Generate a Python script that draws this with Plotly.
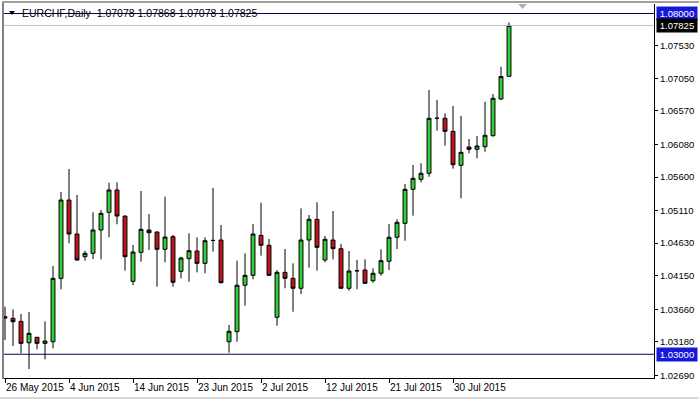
import pandas as pd
import plotly.graph_objects as go

# ---- data ----
start_date = "2015-05-26"
n_bars = 64
dates = pd.bdate_range(start=start_date, periods=n_bars, freq="C",
                       weekmask="Sun Mon Tue Wed Thu Fri")
categories = [d.strftime("%Y-%m-%d") for d in dates]

opens = [1.03551, 1.03527, 1.03483, 1.03169, 1.03249, 1.03160, 1.03184, 1.04114,
         1.05263, 1.04764, 1.04431, 1.04481, 1.04823, 1.05083, 1.05410, 1.05028,
         1.04070, 1.04496, 1.04823, 1.04794, 1.04540, 1.04725, 1.04217, 1.04402,
         1.04515, 1.04334, 1.04670, 1.04676, 1.03184, 1.03331, 1.04012, 1.04158,
         1.04745, 1.04599, 1.03542, 1.04202, 1.04114, 1.03968, 1.04676, 1.04980,
         1.04383, 1.04676, 1.04549, 1.03968, 1.04225, 1.04236, 1.04079, 1.04188,
         1.04364, 1.04716, 1.04921, 1.05420, 1.05567, 1.05655, 1.06462, 1.06462,
         1.06271, 1.05772, 1.06041, 1.06007, 1.06045, 1.06207, 1.06745, 1.07078]
highs = [1.03698, 1.03659, 1.03590, 1.03620, 1.03253, 1.03483, 1.04295, 1.05381,
         1.05718, 1.05337, 1.04519, 1.05083, 1.05117, 1.05517, 1.05523, 1.05035,
         1.04603, 1.05395, 1.05058, 1.04800, 1.05312, 1.04750, 1.04431, 1.04775,
         1.04716, 1.04716, 1.05439, 1.04896, 1.03429, 1.04373, 1.04481, 1.04911,
         1.05224, 1.04691, 1.04236, 1.04544, 1.04334, 1.05141, 1.05043, 1.05230,
         1.04735, 1.05102, 1.04618, 1.04515, 1.04383, 1.04393, 1.04261, 1.04540,
         1.04911, 1.04980, 1.05498, 1.05777, 1.05802, 1.06877, 1.06731, 1.06535,
         1.06643, 1.06496, 1.06158, 1.06202, 1.06706, 1.06819, 1.07219, 1.07868]
lows = [1.03209, 1.03121, 1.03014, 1.02783, 1.03072, 1.02926, 1.03087, 1.03953,
        1.04628, 1.04370, 1.04373, 1.04397, 1.04393, 1.04716, 1.04907, 1.04226,
        1.04012, 1.04358, 1.04530, 1.03991, 1.04349, 1.03991, 1.04114, 1.04064,
        1.04202, 1.04188, 1.04505, 1.04041, 1.03023, 1.03184, 1.03712, 1.04100,
        1.04446, 1.04150, 1.03419, 1.03968, 1.03624, 1.03884, 1.04270, 1.04226,
        1.04349, 1.04393, 1.03960, 1.03932, 1.03953, 1.04031, 1.04050, 1.04152,
        1.04236, 1.04544, 1.04666, 1.05033, 1.05523, 1.05605, 1.06280, 1.06060,
        1.05723, 1.05288, 1.05949, 1.05875, 1.05972, 1.06192, 1.06731, 1.07078]
closes = [1.03532, 1.03477, 1.03160, 1.03307, 1.03160, 1.03194, 1.04114, 1.05263,
          1.04764, 1.04383, 1.04481, 1.04823, 1.05068, 1.05410, 1.05028, 1.04431,
          1.04500, 1.04833, 1.04783, 1.04540, 1.04720, 1.04056, 1.04412, 1.04519,
          1.04334, 1.04666, 1.04670, 1.04050, 1.03337, 1.04012, 1.04158, 1.04764,
          1.04599, 1.04158, 1.04202, 1.04114, 1.03968, 1.04676, 1.04980, 1.04569,
          1.04687, 1.04549, 1.03968, 1.04221, 1.04225, 1.04041, 1.04188, 1.04373,
          1.04716, 1.04936, 1.05420, 1.05582, 1.05655, 1.06462, 1.06462, 1.06271,
          1.05781, 1.05963, 1.06007, 1.06056, 1.06213, 1.06756, 1.07075, 1.07825]

price_ticks = [1.07530, 1.07050, 1.06570, 1.06080, 1.05600, 1.05110,
               1.04630, 1.04150, 1.03660, 1.03180, 1.02690]
date_tick_every = 8
level_high = 1.08000
level_low = 1.03000
title_text = "EURCHF,Daily  1.07078 1.07868 1.07078 1.07825"

# ---- layout geometry (pixels) ----
W, H = 699, 399
L, R, T, B = 4, 45, 4, 21
PW, PH = W - L - R, H - T - B
y_min, y_max = 1.026515, 1.081394
FONT = "Liberation Sans"


def px(xp):
    return (xp - L) / PW


def py(yp):
    return 1 - (yp - T) / PH


fig = go.Figure()
fig.add_trace(go.Candlestick(
    x=categories, open=opens, high=highs, low=lows, close=closes,
    increasing=dict(fillcolor="#32cd32", line=dict(color="black", width=1)),
    decreasing=dict(fillcolor="#c0141c", line=dict(color="black", width=1)),
    whiskerwidth=0, showlegend=False, hoverinfo="skip",
))

tick_idx = list(range(0, n_bars, date_tick_every))
tickvals_x = [categories[i] for i in tick_idx]
ticktext_x = [f"{dates[i].day} {dates[i].strftime('%b %Y')}" for i in tick_idx]

fig.update_layout(
    width=W, height=H,
    margin=dict(l=L, r=R, t=T, b=B, pad=0, autoexpand=False),
    paper_bgcolor="white", plot_bgcolor="white",
    font=dict(family=FONT, size=10, color="black"),
    showlegend=False,
    xaxis=dict(
        type="category", range=[-0.125, 81.125], rangeslider=dict(visible=False),
        showgrid=False, zeroline=False, showline=True, linecolor="black", linewidth=1,
        ticks="outside", ticklen=4, tickcolor="black", tickwidth=1,
        tickvals=tickvals_x, ticktext=ticktext_x, tickangle=0, automargin=False,
        ticklabelposition="outside right",
        tickfont=dict(family=FONT, size=10, color="black"),
    ),
    yaxis=dict(
        side="right", range=[y_min, y_max], showgrid=False, zeroline=False,
        showline=True, linecolor="black", linewidth=1, automargin=False,
        ticks="outside", ticklen=3, tickcolor="black", tickwidth=1,
        tickvals=price_ticks, ticktext=[f"{v:.5f}" for v in price_ticks],
        tickfont=dict(family=FONT, size=9.5, color="black"),
    ),
)

shapes = [
    dict(type="line", xref="paper", yref="y", x0=0, x1=1, y0=level_high, y1=level_high,
         line=dict(color="#000060", width=1)),
    dict(type="line", xref="paper", yref="y", x0=0, x1=1, y0=level_low, y1=level_low,
         line=dict(color="#000060", width=1)),
    dict(type="line", xref="paper", yref="y", x0=0, x1=1, y0=closes[-1], y1=closes[-1],
         line=dict(color="#c0c0c0", width=1)),
    # window frame
    dict(type="line", xref="paper", yref="paper", x0=px(3), x1=px(3), y0=py(2), y1=py(379),
         line=dict(color="#808080", width=2)),
    dict(type="line", xref="paper", yref="paper", x0=px(2), x1=px(699), y0=py(2), y1=py(2),
         line=dict(color="#a0a0a0", width=2)),
    dict(type="line", xref="paper", yref="paper", x0=px(0), x1=px(699), y0=py(398), y1=py(398),
         line=dict(color="#d8d8d8", width=2)),
    # small triangle before the title
    dict(type="path", xref="paper", yref="paper",
         path=f"M {px(9)} {py(11)} L {px(15)} {py(11)} L {px(12)} {py(15)} Z",
         fillcolor="black", line=dict(width=0)),
    # chart-shift marker
    dict(type="path", xref="paper", yref="paper",
         path=f"M {px(518)} {py(4)} L {px(527)} {py(4)} L {px(522.5)} {py(9)} Z",
         fillcolor="#b0b0b0", line=dict(width=0)),
]
fig.update_layout(shapes=shapes)

annotations = [
    dict(text=title_text, xref="paper", yref="paper", x=px(20), y=py(13.5),
         xanchor="left", yanchor="middle", showarrow=False,
         font=dict(family=FONT, size=10.5, color="black")),
]
for val, bg in [(level_high, "#1818d8"), (closes[-1], "black"), (level_low, "#1818d8")]:
    annotations.append(dict(
        text=f"{val:.5f}", xref="paper", yref="y", x=1, y=val,
        xanchor="left", yanchor="middle", xshift=2, showarrow=False,
        bgcolor=bg, borderpad=1, width=38,
        font=dict(family=FONT, size=9.5, color="white"),
    ))
fig.update_layout(annotations=annotations)

fig.write_html("out.html")
